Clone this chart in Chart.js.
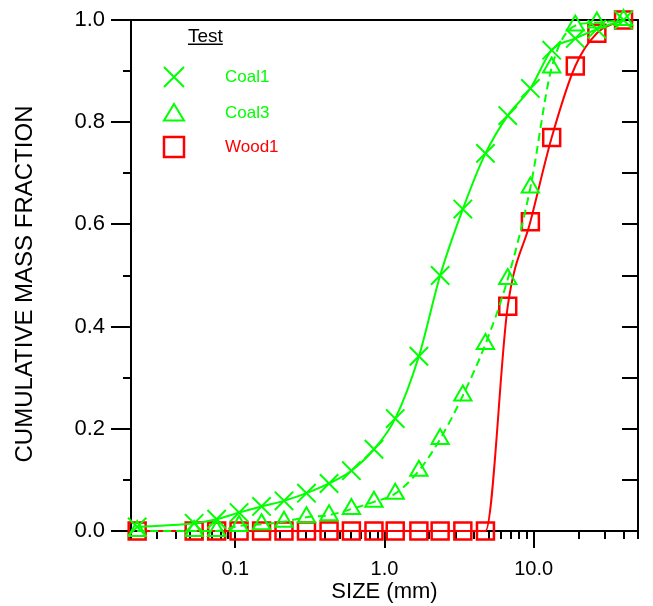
<!DOCTYPE html>
<html>
<head>
<meta charset="utf-8">
<title>Cumulative mass fraction</title>
<script src="https://cdn.jsdelivr.net/npm/chart.js@4.4.0/dist/chart.umd.min.js"></script>
<style>
  html, body { margin: 0; padding: 0; background: #fff; }
  canvas { display: block; }
</style>
</head>
<body>
<canvas id="psdChart" width="653" height="606"></canvas>
<script>
// sieve sizes (mm) and cumulative mass fractions
const sizes = [0.022, 0.053, 0.075, 0.106, 0.15, 0.212, 0.3, 0.425, 0.6, 0.85, 1.18, 1.7, 2.36, 3.35, 4.75, 6.7, 9.5, 13.2, 19, 26.5, 40];
const coal1 = [0.008, 0.015, 0.023, 0.036, 0.048, 0.059, 0.074, 0.093, 0.118, 0.16, 0.22, 0.342, 0.5, 0.63, 0.739, 0.813, 0.866, 0.941, 0.964, 0.982, 1.0];
const coal3 = [0, 0, 0, 0.01, 0.013, 0.018, 0.027, 0.031, 0.043, 0.057, 0.073, 0.118, 0.18, 0.265, 0.366, 0.493, 0.672, 0.907, 0.989, 0.995, 1.0];
const wood1 = [0, 0, 0, 0, 0, 0, 0, 0, 0, 0, 0, 0, 0, 0, 0, 0.44, 0.605, 0.77, 0.91, 0.974, 1.0];

const seriesNames = ['Coal1', 'Coal3', 'Wood1'];
const legendTitle = 'Test';
const xTitle = 'SIZE (mm)';
const yTitle = 'CUMULATIVE MASS FRACTION';
const xTickValues = [0.1, 1, 10];
const xMin = 0.02;
const xMax = 50;

const GREEN = '#00ff00';
const RED = '#ff0000';
const FONT = "'Liberation Sans', Arial, sans-serif";

const toPoints = (values) => sizes.map((size, i) => ({ x: size, y: values[i] }));

const noScalePadding = (scale) => {
  scale.paddingTop = 0;
  scale.paddingBottom = 0;
  scale.paddingLeft = 0;
  scale.paddingRight = 0;
};

// frame plus tick marks (left/bottom outward, right inward, top none)
const frameTicks = {
  id: 'frameTicks',
  beforeDatasetsDraw(chart) {
    const { ctx, chartArea: area, scales: { x, y } } = chart;
    ctx.save();
    ctx.strokeStyle = '#000';
    ctx.lineWidth = 2;
    ctx.beginPath();
    for (let i = 0; i <= 10; i++) {
      const py = Math.round(y.getPixelForValue(i / 10));
      const len = i % 2 === 0 ? 20 : 8;
      ctx.moveTo(area.left - len, py);
      ctx.lineTo(area.left, py);
      ctx.moveTo(area.right, py);
      ctx.lineTo(area.right - 16, py);
    }
    [0.01, 0.1, 1, 10].forEach((decade) => {
      for (let m = 1; m < 10; m++) {
        const v = decade * m;
        if (v < xMin * 0.999 || v > xMax * 1.001) {
          continue;
        }
        const px = Math.round(x.getPixelForValue(v));
        const len = m === 1 ? 17 : 8;
        ctx.moveTo(px, area.bottom);
        ctx.lineTo(px, area.bottom + len);
      }
    });
    ctx.stroke();
    ctx.strokeRect(area.left, area.top, area.right - area.left, area.bottom - area.top);

    // rotated y title, sits a bit below the plot middle as in the original
    ctx.fillStyle = '#000';
    ctx.font = `24px ${FONT}`;
    ctx.textAlign = 'center';
    ctx.textBaseline = 'middle';
    ctx.translate(25, 284);
    ctx.rotate(-Math.PI / 2);
    ctx.fillText(yTitle, 0, 0);
    ctx.restore();
  },
};

// legend drawn inside the plot, top left
const insideLegend = {
  id: 'insideLegend',
  afterDraw(chart) {
    const { ctx } = chart;
    ctx.save();
    ctx.font = `19px ${FONT}`;
    ctx.fillStyle = '#000';
    ctx.textBaseline = 'alphabetic';
    ctx.fillText(legendTitle, 188, 42);
    const w = ctx.measureText(legendTitle).width;
    ctx.fillRect(188, 43.5, w, 1.5);

    const cx = 174;
    const colors = [GREEN, GREEN, RED];
    const rowY = [77, 113, 147];
    ctx.lineWidth = 2;

    ctx.strokeStyle = colors[0];
    ctx.beginPath();
    ctx.moveTo(cx - 10, rowY[0] - 10);
    ctx.lineTo(cx + 10, rowY[0] + 10);
    ctx.moveTo(cx + 10, rowY[0] - 10);
    ctx.lineTo(cx - 10, rowY[0] + 10);
    ctx.stroke();

    ctx.strokeStyle = colors[1];
    ctx.beginPath();
    ctx.moveTo(cx, rowY[1] - 9);
    ctx.lineTo(cx + 10, rowY[1] + 7.5);
    ctx.lineTo(cx - 10, rowY[1] + 7.5);
    ctx.closePath();
    ctx.stroke();

    ctx.strokeStyle = colors[2];
    ctx.lineWidth = 2.5;
    ctx.strokeRect(cx - 10, rowY[2] - 10, 20, 20);

    ctx.font = `17px ${FONT}`;
    ctx.textBaseline = 'middle';
    seriesNames.forEach((name, i) => {
      ctx.fillStyle = colors[i];
      ctx.fillText(name, 225, rowY[i]);
    });
    ctx.restore();
  },
};

const ctx = document.getElementById('psdChart');

new Chart(ctx, {
  type: 'line',
  data: {
    datasets: [
      {
        label: seriesNames[0],
        data: toPoints(coal1),
        borderColor: GREEN,
        backgroundColor: 'rgba(0,0,0,0)',
        borderWidth: 2,
        pointStyle: 'crossRot',
        pointRadius: 13,
        pointBorderWidth: 2,
        pointBorderColor: GREEN,
        cubicInterpolationMode: 'monotone',
        clip: false,
      },
      {
        label: seriesNames[1],
        data: toPoints(coal3),
        borderColor: GREEN,
        backgroundColor: 'rgba(0,0,0,0)',
        borderWidth: 2,
        borderDash: [8, 5],
        pointStyle: 'triangle',
        pointRadius: 10,
        pointBorderWidth: 2,
        pointBorderColor: GREEN,
        cubicInterpolationMode: 'monotone',
        clip: false,
      },
      {
        label: seriesNames[2],
        data: toPoints(wood1),
        borderColor: RED,
        backgroundColor: 'rgba(0,0,0,0)',
        borderWidth: 2,
        pointStyle: 'rect',
        pointRadius: 12,
        pointBorderWidth: 2.5,
        pointBorderColor: RED,
        cubicInterpolationMode: 'monotone',
        clip: false,
      },
    ],
  },
  options: {
    responsive: false,
    animation: false,
    layout: { padding: { top: 20, right: 11, bottom: 0, left: 0 } },
    plugins: {
      legend: { display: false },
      tooltip: { enabled: false },
    },
    scales: {
      x: {
        type: 'logarithmic',
        min: xMin,
        max: xMax,
        grid: { display: false, drawTicks: false },
        border: { display: false },
        afterBuildTicks(scale) {
          scale.ticks = xTickValues.map((value) => ({ value }));
        },
        afterFit(scale) {
          scale.height = 75;
          noScalePadding(scale);
        },
        ticks: {
          autoSkip: false,
          maxRotation: 0,
          padding: 26,
          color: '#000',
          font: { family: FONT, size: 20 },
          callback: (value) => Number(value).toFixed(1),
        },
        title: {
          display: true,
          text: xTitle,
          color: '#000',
          font: { family: FONT, size: 22 },
          padding: { top: 0, bottom: 1 },
        },
      },
      y: {
        min: 0,
        max: 1,
        grid: { display: false, drawTicks: false },
        border: { display: false },
        afterFit(scale) {
          scale.width = 131;
          noScalePadding(scale);
        },
        ticks: {
          stepSize: 0.2,
          padding: 26,
          color: '#000',
          font: { family: FONT, size: 22 },
          callback: (value) => Number(value).toFixed(1),
        },
        title: { display: false },
      },
    },
  },
  plugins: [frameTicks, insideLegend],
});
</script>
</body>
</html>
